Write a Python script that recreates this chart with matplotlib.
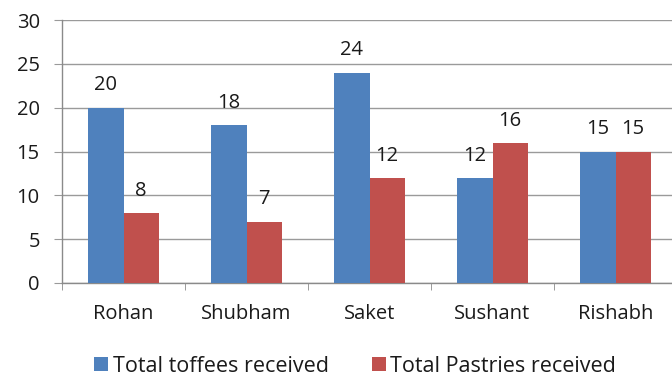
import matplotlib
matplotlib.use("Agg")
import matplotlib.pyplot as plt
import numpy as np

categories = ["Rohan", "Shubham", "Saket", "Sushant", "Rishabh"]
toffees = [20, 18, 24, 12, 15]
pastries = [8, 7, 12, 16, 15]
series_names = ["Total toffees received", "Total Pastries received"]
yticks = [0, 5, 10, 15, 20, 25, 30]

plt.rcParams['font.family'] = ['Open Sans', 'DejaVu Sans']
blue = "#4F81BD"
red = "#C0504D"
txt = "#1a1a1a"
fs = 14.5

fig = plt.figure(figsize=(6.72, 3.79), dpi=100)
ax = fig.add_axes([62/672, 1-283/379, (677-62)/672, (283-20)/379])

x = np.arange(len(categories))
w = 0.285
b1 = ax.bar(x - w/2, toffees, w, color=blue, label=series_names[0], zorder=3)
b2 = ax.bar(x + w/2, pastries, w, color=red, label=series_names[1], zorder=3)

for bars, vals in ((b1, toffees), (b2, pastries)):
    for rect, v in zip(bars, vals):
        ax.annotate(str(v), (rect.get_x() + rect.get_width()/2, v), xytext=(0, 16),
                    textcoords="offset points", ha="center", va="center",
                    fontsize=fs, color=txt)

ax.set_xlim(-0.5, len(categories) - 0.5)
ax.set_ylim(0, 30)
ax.set_yticks(yticks)
ax.set_yticklabels([str(t) for t in yticks], fontsize=fs, color=txt)
ax.yaxis.grid(True, color="#9a9a9a", linewidth=1.0, zorder=0)
ax.set_axisbelow(True)

ax.set_xticks(x)
ax.set_xticklabels(categories, fontsize=fs, color=txt)
ax.tick_params(axis='x', length=0, pad=15)
ax.set_xticks(np.arange(len(categories) + 1) - 0.5, minor=True)
ax.tick_params(axis='x', which='minor', length=5, color="#8a8a8a", direction='out')
ax.tick_params(axis='y', length=6, color="#9a9a9a", pad=10)

for s in ["top", "right"]:
    ax.spines[s].set_visible(False)
for s in ["left", "bottom"]:
    ax.spines[s].set_color("#8a8a8a")
    ax.spines[s].set_linewidth(1.0)

leg = fig.legend(handles=[b1, b2], loc="center", bbox_to_anchor=(355/672, 1-366/379), ncol=2,
                 frameon=False, fontsize=15.5, handlelength=0.65, handleheight=0.65,
                 handletextpad=0.2, columnspacing=2.0)
for t in leg.get_texts():
    t.set_color(txt)

fig.savefig("out.png", dpi=100)
